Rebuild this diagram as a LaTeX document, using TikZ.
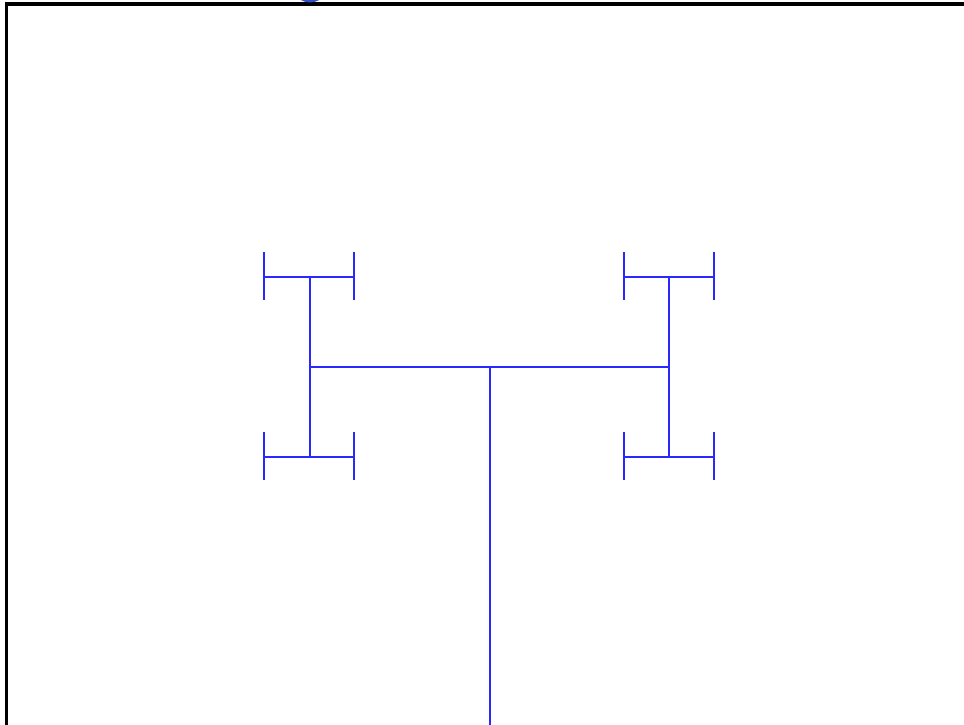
\documentclass[tikz,border=0pt]{standalone}
\definecolor{treeblue}{RGB}{40,40,255}
\definecolor{blobblue}{RGB}{50,80,200}
\begin{document}
\begin{tikzpicture}[x=1pt,y=-1pt,
  branch/.style={draw=treeblue,line width=2.5pt},
  frame/.style={draw=black,line width=3.5pt}]
\useasboundingbox (0,0) rectangle (964,725);
\clip (0,0) rectangle (964,725);
\fill[white] (0,0) rectangle (964,725);
% frame
\draw[frame] (6.5,740) -- (6.5,4) -- (980,4);
% cut-off blob at top
\fill[blobblue] (310,-5) ellipse (12 and 7.5);
% coordinates
\coordinate (root) at (490,725);
\coordinate (c) at (490,367);
\coordinate (L) at (310,367);
\coordinate (R) at (669,367);
\coordinate (Lt) at (310,277);
\coordinate (Lb) at (310,457);
\coordinate (Rt) at (669,277);
\coordinate (Rb) at (669,457);
% level-3 endpoints
\foreach \n/\x/\y in {Ltl/264/277, Ltr/354/277, Lbl/264/457, Lbr/354/457,
                      Rtl/624/277, Rtr/714/277, Rbl/624/457, Rbr/714/457}{
  \coordinate (\n) at (\x,\y);
  \coordinate (\n u) at (\x,\y-25);
  \coordinate (\n d) at (\x,\y+22.5);
}
% trunk and branches
\draw[branch] (root) -- (c);
\draw[branch] (L) -- (R);
\draw[branch] (Lt) -- (Lb);
\draw[branch] (Rt) -- (Rb);
\draw[branch] (Ltl) -- (Ltr);
\draw[branch] (Lbl) -- (Lbr);
\draw[branch] (Rtl) -- (Rtr);
\draw[branch] (Rbl) -- (Rbr);
\foreach \n in {Ltl,Ltr,Lbl,Lbr,Rtl,Rtr,Rbl,Rbr}{
  \draw[branch] (\n u) -- (\n d);
}
\end{tikzpicture}
\end{document}
